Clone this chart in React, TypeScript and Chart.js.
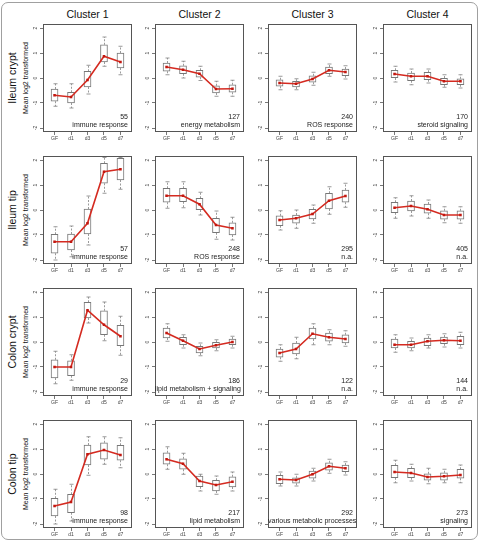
import React, { useEffect, useRef } from "react";
import { Chart, registerables } from "chart.js";

Chart.register(...registerables);

const clusterNames = ["Cluster 1", "Cluster 2", "Cluster 3", "Cluster 4"];
const tissueNames = ["Ileum crypt", "Ileum tip", "Colon crypt", "Colon tip"];
const timepoints = ["GF", "d1", "d3", "d5", "d7"];
const yTickValues = [-2, -1, 0, 1, 2];
const yAxisTitle = "Mean log2 transformed";

// genes per cluster and enriched process, by tissue (rows) and cluster (columns)
const geneCounts = [
  [55, 127, 240, 170],
  [57, 248, 295, 405],
  [29, 186, 122, 144],
  [98, 217, 292, 273],
];
const processLabels = [
  ["immune response", "energy metabolism", "ROS response", "steroid signaling"],
  ["immune response", "ROS response", "n.a.", "n.a."],
  ["immune response", "lipid metabolism + signaling", "n.a.", "n.a."],
  ["immune response", "lipid metabolism", "various metabolic processes", "signaling"],
];

// Box statistics: one row per cluster, one column per time point
const ileumCryptLow = [
  [-1.13, -1.2, -0.64, 0.47, 0.13],
  [0.13, 0, -0.1, -0.73, -0.73],
  [-0.47, -0.47, -0.29, 0.07, -0.04],
  [-0.16, -0.27, -0.2, -0.37, -0.4],
];
const ileumCryptQ1 = [
  [-0.93, -1.0, -0.36, 0.64, 0.4],
  [0.27, 0.17, 0.03, -0.6, -0.57],
  [-0.33, -0.36, -0.17, 0.17, 0.09],
  [0, -0.11, -0.07, -0.27, -0.27],
];
const ileumCryptQ3 = [
  [-0.44, -0.57, 0.27, 1.33, 1.0],
  [0.6, 0.49, 0.31, -0.31, -0.27],
  [-0.07, -0.13, 0.09, 0.44, 0.36],
  [0.31, 0.2, 0.23, 0, -0.03],
];
const ileumCryptHigh = [
  [-0.23, -0.23, 0.51, 1.64, 1.27],
  [0.8, 0.67, 0.47, -0.13, -0.09],
  [0.07, -0.03, 0.23, 0.56, 0.49],
  [0.47, 0.36, 0.36, 0.13, 0.13],
];
const ileumCryptMean = [
  [-0.69, -0.76, -0.08, 0.87, 0.64],
  [0.44, 0.33, 0.17, -0.44, -0.43],
  [-0.2, -0.23, -0.04, 0.31, 0.24],
  [0.16, 0.07, 0.07, -0.13, -0.13],
];

const ileumTipLow = [
  [-2.0, -1.87, -1.4, 0.67, 0.83],
  [0.07, 0.09, -0.2, -1.17, -1.2],
  [-0.8, -0.73, -0.53, -0.17, 0.11],
  [-0.33, -0.24, -0.33, -0.51, -0.53],
];
const ileumTipQ1 = [
  [-1.73, -1.6, -0.96, 1.07, 1.2],
  [0.31, 0.33, 0, -0.91, -1.0],
  [-0.63, -0.53, -0.36, 0.04, 0.31],
  [-0.11, -0.04, -0.13, -0.37, -0.37],
];
const ileumTipQ3 = [
  [-0.97, -0.96, 0.04, 1.87, 2.07],
  [0.87, 0.87, 0.47, -0.33, -0.51],
  [-0.23, -0.2, 0.03, 0.67, 0.8],
  [0.31, 0.36, 0.24, -0.03, -0.03],
];
const ileumTipHigh = [
  [-0.67, -0.64, 0.56, 2.1, 2.1],
  [1.13, 1.13, 0.71, -0.04, -0.29],
  [-0.03, 0, 0.2, 0.93, 1.07],
  [0.49, 0.57, 0.4, 0.13, 0.13],
];
const ileumTipMean = [
  [-1.27, -1.27, -0.53, 1.53, 1.63],
  [0.57, 0.57, 0.23, -0.6, -0.73],
  [-0.4, -0.33, -0.16, 0.37, 0.56],
  [0.09, 0.16, 0.03, -0.2, -0.2],
];

const colonCryptLow = [
  [-1.67, -1.53, 0.76, 0.05, -0.53],
  [0.03, -0.24, -0.55, -0.35, -0.24],
  [-0.77, -0.67, -0.11, -0.11, -0.17],
  [-0.41, -0.35, -0.24, -0.2, -0.24],
];
const colonCryptQ1 = [
  [-1.44, -1.35, 0.96, 0.29, -0.15],
  [0.16, -0.11, -0.44, -0.24, -0.11],
  [-0.61, -0.48, 0.12, 0.03, -0.04],
  [-0.24, -0.24, -0.15, -0.07, -0.11],
];
const colonCryptQ3 = [
  [-0.71, -0.75, 1.59, 1.25, 0.67],
  [0.56, 0.19, -0.17, -0.01, 0.12],
  [-0.28, -0.04, 0.56, 0.36, 0.29],
  [0.12, 0.03, 0.16, 0.2, 0.23],
];
const colonCryptHigh = [
  [-0.37, -0.51, 1.8, 1.6, 1.03],
  [0.73, 0.29, -0.04, 0.09, 0.23],
  [-0.11, 0.19, 0.73, 0.49, 0.45],
  [0.29, 0.16, 0.29, 0.33, 0.39],
];
const colonCryptMean = [
  [-1.0, -1.0, 1.27, 0.69, 0.23],
  [0.36, 0.05, -0.28, -0.13, 0],
  [-0.44, -0.28, 0.33, 0.19, 0.12],
  [-0.11, -0.11, 0.03, 0.07, 0.05],
];

const colonTipLow = [
  [-2.0, -1.88, -0.05, 0.39, 0.25],
  [0.19, -0.01, -0.68, -0.81, -0.68],
  [-0.48, -0.48, -0.28, 0.03, -0.04],
  [-0.35, -0.28, -0.39, -0.35, -0.35],
];
const colonTipQ1 = [
  [-1.68, -1.55, 0.36, 0.59, 0.55],
  [0.39, 0.19, -0.51, -0.68, -0.52],
  [-0.39, -0.37, -0.17, 0.15, 0.09],
  [-0.15, -0.15, -0.25, -0.25, -0.17],
];
const colonTipQ3 = [
  [-0.97, -0.81, 1.16, 1.25, 1.15],
  [0.85, 0.61, -0.08, -0.25, -0.11],
  [-0.05, -0.15, 0.12, 0.45, 0.36],
  [0.35, 0.23, 0.01, 0.05, 0.19],
];
const colonTipHigh = [
  [-0.61, -0.41, 1.49, 1.49, 1.45],
  [1.09, 0.83, -0.01, -0.08, 0.08],
  [0.08, -0.01, 0.23, 0.59, 0.49],
  [0.55, 0.39, 0.23, 0.19, 0.36],
];
const colonTipMean = [
  [-1.28, -1.12, 0.79, 0.96, 0.76],
  [0.59, 0.41, -0.28, -0.44, -0.31],
  [-0.21, -0.24, -0.01, 0.31, 0.23],
  [0.08, 0.04, -0.12, -0.09, -0.04],
];

type Stats = { low: number[][]; q1: number[][]; q3: number[][]; high: number[][]; mean: number[][] };

const tissueStats: Stats[] = [
  { low: ileumCryptLow, q1: ileumCryptQ1, q3: ileumCryptQ3, high: ileumCryptHigh, mean: ileumCryptMean },
  { low: ileumTipLow, q1: ileumTipQ1, q3: ileumTipQ3, high: ileumTipHigh, mean: ileumTipMean },
  { low: colonCryptLow, q1: colonCryptQ1, q3: colonCryptQ3, high: colonCryptHigh, mean: colonCryptMean },
  { low: colonTipLow, q1: colonTipQ1, q3: colonTipQ3, high: colonTipHigh, mean: colonTipMean },
];

// grid geometry (plot-area boxes)
const PANEL_LEFT = [43, 155, 268, 383];
const PANEL_TOP = [24, 156, 288, 420];
const PANEL_W = 89;
const PANEL_H = 108;
const Y_AXIS_W = 16;
const X_AXIS_H = 12;
const PAD_T = 5;
const PAD_R = 4;

const FONT = '"Liberation Sans", Arial, Helvetica, sans-serif';
const RED = "#d42a20";
const BOX = "#777777";
const WHISKER = "#808080";
const AXIS = "#555555";
const TICK_TEXT = "#444444";

function Panel({ row, col }: { row: number; col: number }) {
  const ref = useRef<HTMLCanvasElement>(null);

  useEffect(() => {
    const s = tissueStats[row];
    const lo = s.low[col];
    const q1 = s.q1[col];
    const q3 = s.q3[col];
    const hi = s.high[col];
    const mean = s.mean[col];

    // dashed whiskers with short staples at both ends
    const whiskers = {
      id: "whiskers",
      beforeDatasetsDraw(chart: any) {
        const { ctx } = chart;
        const xs = chart.scales.x;
        const ys = chart.scales.y;
        ctx.save();
        ctx.strokeStyle = WHISKER;
        ctx.lineWidth = 0.8;
        const seg = (x1: number, y1: number, x2: number, y2: number) => {
          ctx.beginPath();
          ctx.moveTo(x1, y1);
          ctx.lineTo(x2, y2);
          ctx.stroke();
        };
        timepoints.forEach((_, i) => {
          const x = Math.round(xs.getPixelForValue(i + 1)) + 0.5;
          const yHi = ys.getPixelForValue(hi[i]);
          const yLo = ys.getPixelForValue(lo[i]);
          ctx.setLineDash([2, 1.5]);
          seg(x, ys.getPixelForValue(q3[i]), x, yHi);
          seg(x, ys.getPixelForValue(q1[i]), x, yLo);
          ctx.setLineDash([]);
          seg(x - 2, yHi, x + 2, yHi);
          seg(x - 2, yLo, x + 2, yLo);
        });
        ctx.restore();
      },
    };

    // full box around the plotting region
    const frame = {
      id: "frame",
      afterDraw(chart: any) {
        const { ctx, chartArea: a } = chart;
        ctx.save();
        ctx.strokeStyle = AXIS;
        ctx.lineWidth = 1;
        ctx.strokeRect(Math.round(a.left) + 0.5, Math.round(a.top) + 0.5, Math.round(a.width) - 1, Math.round(a.height) - 1);
        ctx.restore();
      },
    };

    const tickGrid = {
      display: true,
      drawOnChartArea: false,
      drawTicks: true,
      tickLength: 3,
      color: AXIS,
      lineWidth: 0.8,
      offset: false,
    };

    const chart = new Chart(ref.current as HTMLCanvasElement, {
      type: "bar",
      data: {
        datasets: [
          {
            type: "line",
            data: mean.map((v, i) => ({ x: i + 1, y: v })),
            borderColor: RED,
            backgroundColor: RED,
            borderWidth: 1.6,
            pointRadius: 1.8,
            pointStyle: "rect",
            pointBorderWidth: 0,
            pointBackgroundColor: "#c01810",
            order: 0,
          } as any,
          {
            type: "bar",
            data: q1.map((v, i) => ({ x: i + 1, y: [v, q3[i]] })),
            backgroundColor: "#ffffff",
            borderColor: BOX,
            borderWidth: 1,
            borderSkipped: false,
            barThickness: 7,
            order: 1,
          } as any,
        ],
      },
      options: {
        animation: false,
        responsive: false,
        events: [],
        layout: { padding: { top: PAD_T, right: PAD_R, left: 0, bottom: 0 } },
        plugins: { legend: { display: false }, tooltip: { enabled: false } },
        scales: {
          x: {
            type: "linear",
            min: 0.3,
            max: 5.7,
            offset: false,
            afterBuildTicks: (sc: any) => {
              sc.ticks = timepoints.map((_, i) => ({ value: i + 1 }));
            },
            afterFit: (sc: any) => {
              sc.height = X_AXIS_H;
            },
            ticks: {
              callback: (v: any) => timepoints[Number(v) - 1] ?? "",
              font: { size: 5, family: FONT },
              color: TICK_TEXT,
              padding: 1,
              minRotation: 0,
              maxRotation: 0,
              autoSkip: false,
            },
            grid: tickGrid,
            border: { display: false },
          },
          y: {
            type: "linear",
            min: -2.16,
            max: 2.16,
            afterBuildTicks: (sc: any) => {
              sc.ticks = yTickValues.map((v) => ({ value: v }));
            },
            afterFit: (sc: any) => {
              sc.width = Y_AXIS_W;
            },
            ticks: {
              font: { size: 5, family: FONT },
              color: TICK_TEXT,
              padding: 2,
              minRotation: 90,
              maxRotation: 90,
              crossAlign: "center",
              autoSkip: false,
            },
            grid: tickGrid,
            border: { display: false },
          },
        },
      } as any,
      plugins: [whiskers, frame],
    });
    return () => chart.destroy();
  }, [row, col]);

  const left = PANEL_LEFT[col] - Y_AXIS_W;
  const top = PANEL_TOP[row] - PAD_T;
  const width = Y_AXIS_W + PANEL_W + PAD_R;
  const height = PAD_T + PANEL_H + X_AXIS_H;
  return (
    <canvas
      ref={ref}
      width={width}
      height={height}
      style={{ position: "absolute", left, top, width, height }}
    />
  );
}

function PanelNote({ row, col }: { row: number; col: number }) {
  const base: React.CSSProperties = {
    position: "absolute",
    left: PANEL_LEFT[col],
    width: PANEL_W - 4,
    textAlign: "right",
    fontFamily: FONT,
    fontSize: 7,
    lineHeight: "8px",
    color: "#222",
    whiteSpace: "nowrap",
  };
  const bottom = PANEL_TOP[row] + PANEL_H;
  return (
    <>
      <div style={{ ...base, top: bottom - 19 }}>{geneCounts[row][col]}</div>
      <div style={{ ...base, top: bottom - 11 }}>{processLabels[row][col]}</div>
    </>
  );
}

function Rotated({ cx, cy, size, text }: { cx: number; cy: number; size: number; text: string }) {
  return (
    <div
      style={{
        position: "absolute",
        left: cx,
        top: cy,
        transform: "translate(-50%, -50%) rotate(-90deg)",
        fontFamily: FONT,
        fontSize: size,
        lineHeight: 1,
        color: "#111",
        whiteSpace: "nowrap",
      }}
    >
      {text}
    </div>
  );
}

export default function App() {
  return (
    <div
      style={{
        position: "absolute",
        left: 0,
        top: 0,
        width: 481,
        height: 542,
        background: "#ffffff",
        overflow: "hidden",
      }}
    >
      <div
        style={{
          position: "absolute",
          left: 1,
          top: 2,
          width: 477,
          height: 538,
          boxSizing: "border-box",
          border: "1.2px solid #a0a0a0",
          borderRadius: 7,
        }}
      />
      {clusterNames.map((name, c) => (
        <div
          key={name}
          style={{
            position: "absolute",
            left: PANEL_LEFT[c],
            width: PANEL_W,
            top: 8,
            textAlign: "center",
            fontFamily: FONT,
            fontSize: 10.5,
            lineHeight: "12px",
            color: "#111",
          }}
        >
          {name}
        </div>
      ))}
      {tissueNames.map((name, r) => (
        <React.Fragment key={name}>
          <Rotated cx={12} cy={PANEL_TOP[r] + PANEL_H / 2} size={10.5} text={name} />
          <Rotated cx={25} cy={PANEL_TOP[r] + PANEL_H / 2} size={7} text={yAxisTitle} />
        </React.Fragment>
      ))}
      {tissueNames.map((_, r) =>
        clusterNames.map((__, c) => (
          <React.Fragment key={`${r}-${c}`}>
            <Panel row={r} col={c} />
            <PanelNote row={r} col={c} />
          </React.Fragment>
        ))
      )}
    </div>
  );
}
